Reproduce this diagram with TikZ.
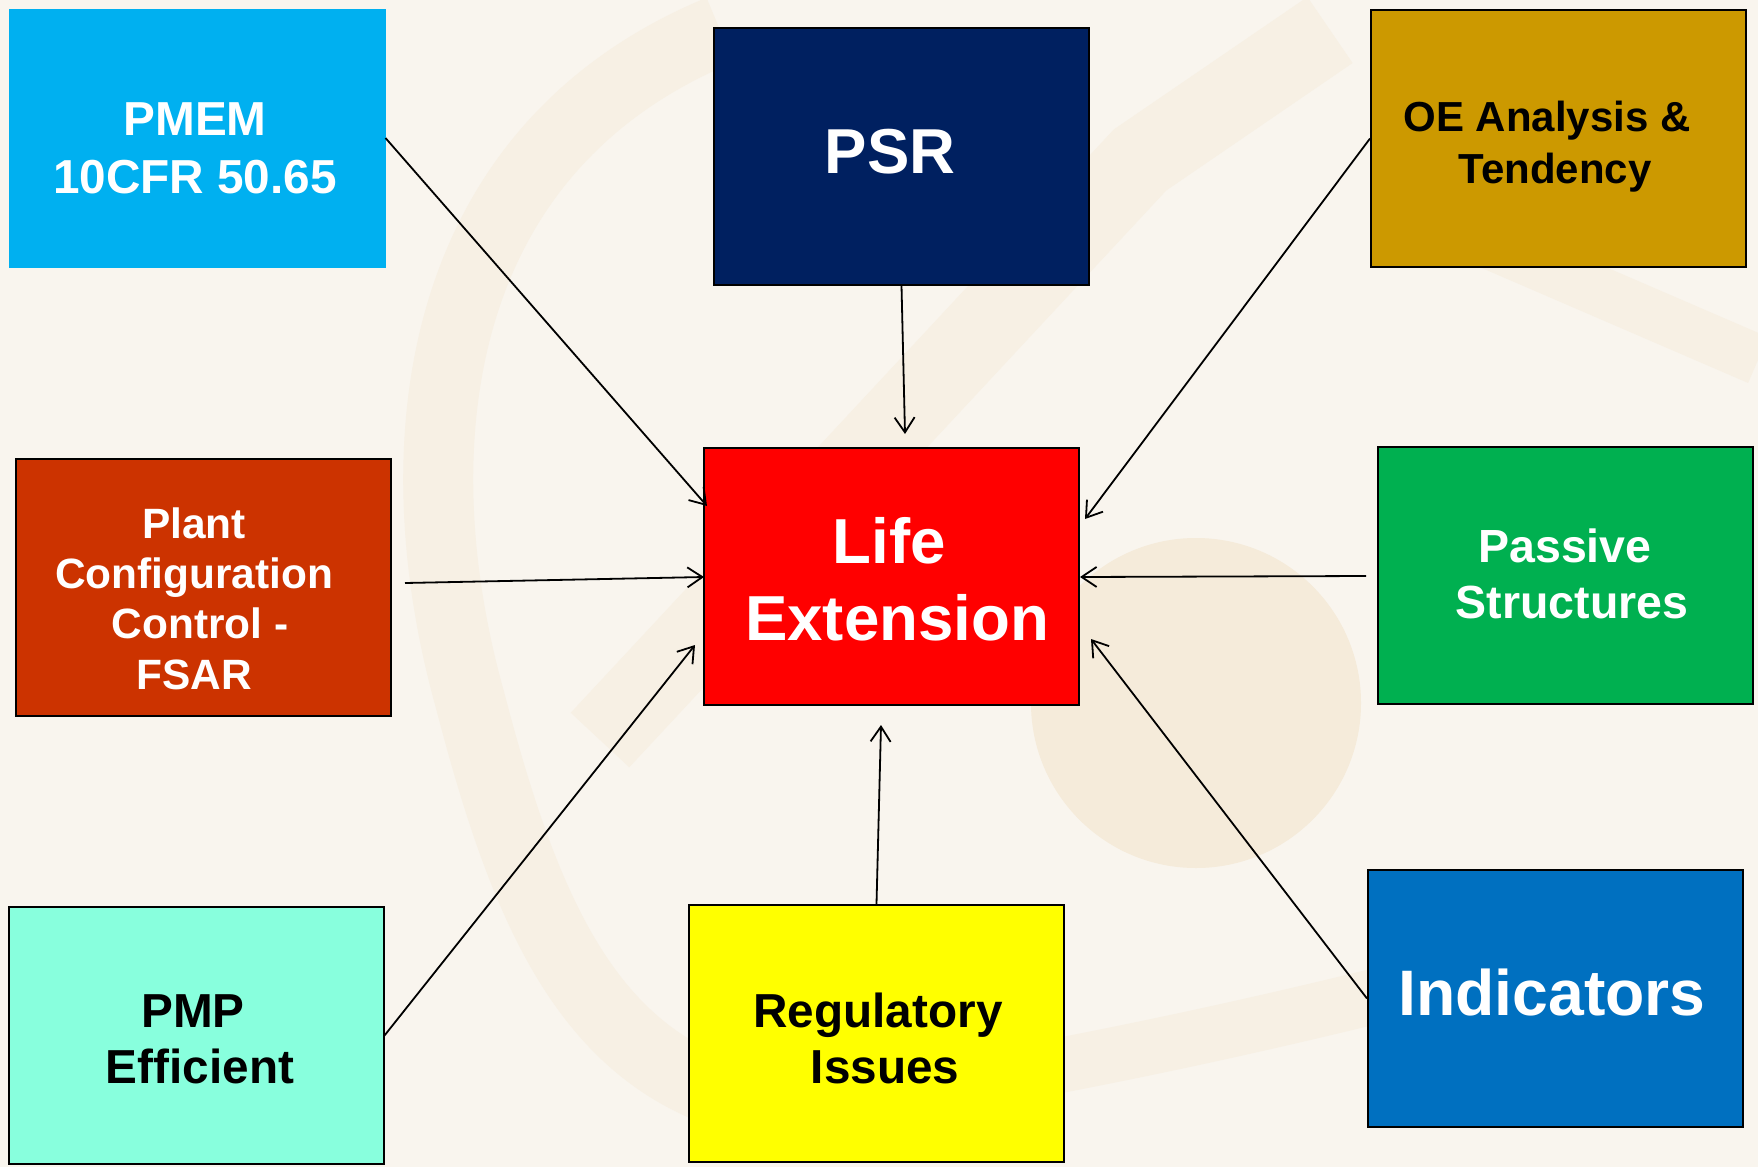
\documentclass[tikz,border=0pt]{standalone}
\usepackage{fontspec}
\setmainfont{Liberation Sans}
\usetikzlibrary{arrows.meta}
\definecolor{bg}{HTML}{F9F5EE}
\definecolor{wm}{HTML}{F5EBDA}
\definecolor{wmlight}{HTML}{F7F0E4}
\definecolor{cpmem}{HTML}{00B0F0}
\definecolor{cpsr}{HTML}{002060}
\definecolor{coe}{HTML}{CC9900}
\definecolor{cplant}{HTML}{CC3300}
\definecolor{clife}{HTML}{FF0000}
\definecolor{cpass}{HTML}{00B050}
\definecolor{cpmp}{HTML}{88FFDD}
\definecolor{creg}{HTML}{FFFF00}
\definecolor{cind}{HTML}{0070C0}
\tikzset{
  boxnode/.style={draw=black, line width=2pt, minimum width=375pt, minimum height=257pt, inner sep=0pt},
  lbl/.style={anchor=base, inner sep=0pt, font=\bfseries},
  wtxt/.style={lbl, text=white},
  btxt/.style={lbl, text=black},
  arr/.style={line width=1.8pt, -{Straight Barb[length=15pt,width=20pt,line width=1.8pt]}},
  wmark/.style={draw=wmlight},
}
\newcommand{\fs}[1]{\fontsize{#1}{#1}\selectfont}
\begin{document}
\begin{tikzpicture}[x=1pt,y=-1pt]
\fill[bg] (0,0) rectangle (1758,1167);
\useasboundingbox (0,0) rectangle (1758,1167);
% faint watermark
\draw[wmark, line width=70pt] (720,30) .. controls (430,150) and (400,450) .. (470,700) .. controls (530,930) and (600,1090) .. (800,1110);
\draw[wmark, line width=55pt] (800,1110) .. controls (1000,1080) and (1200,1040) .. (1400,990);
\draw[wmark, line width=80pt] (600,740) -- (1140,160) -- (1330,30);
\draw[wmark, line width=50pt] (1480,240) -- (1758,360);
\fill[wm] (1196,703) circle (165);
% boxes
\node[boxnode, draw=cpmem, fill=cpmem] (pmem) at (197,138) {};
\node[boxnode, fill=cpsr] (psr) at (901.5,156) {};
\node[boxnode, fill=coe] (oe) at (1558.5,138.5) {};
\node[boxnode, fill=cplant] (plant) at (203.5,587) {};
\node[boxnode, fill=clife] (life) at (891.5,576.5) {};
\node[boxnode, fill=cpass] (pass) at (1565.5,575) {};
\node[boxnode, fill=cpmp] (pmp) at (196,1035.5) {};
\node[boxnode, fill=creg] (reg) at (876.5,1033.5) {};
\node[boxnode, fill=cind] (ind) at (1555.5,998.5) {};
% texts
\node[wtxt, font=\bfseries\fs{47.7}] (t1a) at (195,135) {PMEM};
\node[wtxt, font=\bfseries\fs{47.7}] (t1b) at (195,193) {10CFR 50.65};
\node[wtxt, font=\bfseries\fs{63.5}] (t2) at (890,173) {PSR};
\node[btxt, font=\bfseries\fs{42}] (t3a) at (1547,131) {OE Analysis \&};
\node[btxt, font=\bfseries\fs{42}] (t3b) at (1555,183) {Tendency};
\node[wtxt, font=\bfseries\fs{42.4}] (t4a) at (194,538) {Plant};
\node[wtxt, font=\bfseries\fs{42.4}] (t4b) at (194,588) {Configuration};
\node[wtxt, font=\bfseries\fs{42.4}] (t4c) at (200,638) {Control -};
\node[wtxt, font=\bfseries\fs{42.4}] (t4d) at (194,689) {FSAR};
\node[wtxt, font=\bfseries\fs{63.6}] (t5a) at (889,563) {Life};
\node[wtxt, font=\bfseries\fs{63.6}] (t5b) at (897,640) {Extension};
\node[wtxt, font=\bfseries\fs{46.5}] (t6a) at (1565,562) {Passive};
\node[wtxt, font=\bfseries\fs{46.5}] (t6b) at (1572,618) {Structures};
\node[btxt, font=\bfseries\fs{47.7}] (t7a) at (193,1027) {PMP};
\node[btxt, font=\bfseries\fs{47.7}] (t7b) at (200,1083) {Efficient};
\node[btxt, font=\bfseries\fs{47.7}] (t8a) at (878,1027) {Regulatory};
\node[btxt, font=\bfseries\fs{47.7}] (t8b) at (885,1083) {Issues};
\node[wtxt, font=\bfseries\fs{64.3}] (t9) at (1552,1015) {Indicators};
% connector ends
\coordinate (e1) at (707,506);
\coordinate (e2) at (905,434);
\coordinate (e3) at (1085,519);
\coordinate (s4) at (405,583);
\coordinate (e4) at (704,577);
\coordinate (s5) at (1366,576);
\coordinate (e5) at (1080,577);
\coordinate (e6) at (695,645);
\coordinate (e7) at (881,725);
\coordinate (e8) at (1091,639);
% connectors
\draw[arr] (pmem.east) -- (e1);
\draw[arr] (psr.south) -- (e2);
\draw[arr] (oe.west) -- (e3);
\draw[arr] (s4) -- (e4);
\draw[arr] (s5) -- (e5);
\draw[arr] (pmp.east) -- (e6);
\draw[arr] (reg.north) -- (e7);
\draw[arr] (ind.west) -- (e8);
\end{tikzpicture}
\end{document}
